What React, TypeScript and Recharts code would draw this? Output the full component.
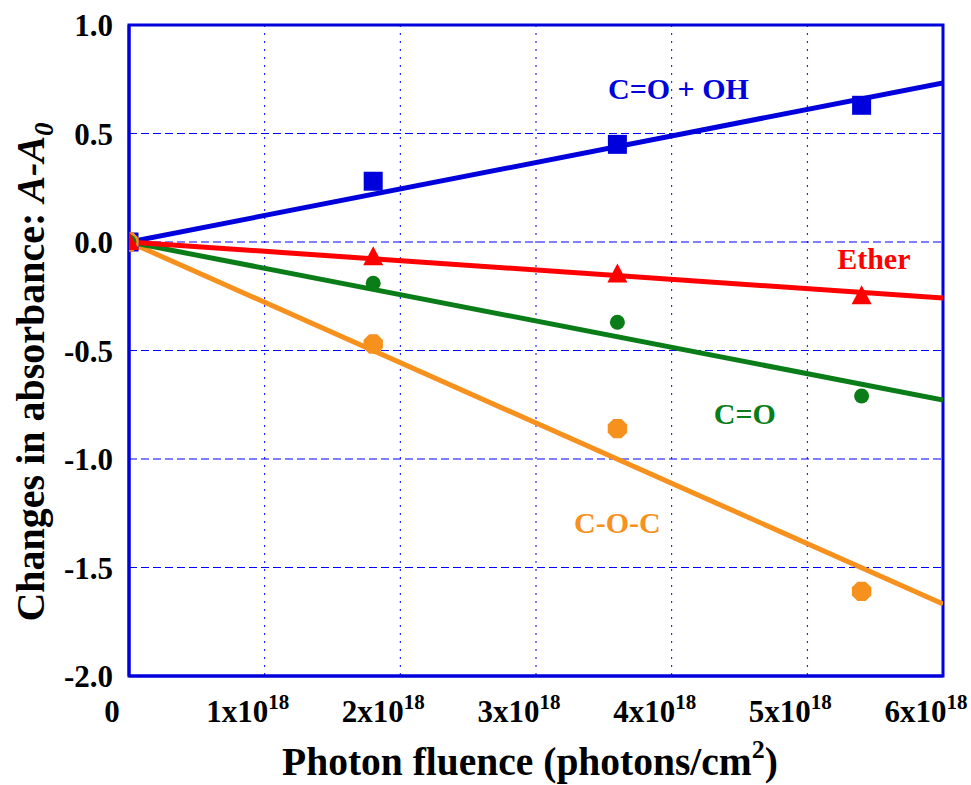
import React from "react"
import {
  CartesianGrid,
  ReferenceArea,
  ReferenceDot,
  Scatter,
  ScatterChart,
  XAxis,
  YAxis,
} from "recharts"

// photon fluence (photons/cm2) of the measured points
const fluence = [0, 1.8e18, 3.6e18, 5.4e18]

// changes in absorbance A-A0
const coOh = [0, 0.28, 0.45, 0.63]
const ether = [0, -0.07, -0.15, -0.25]
const co = [0, -0.19, -0.37, -0.71]
const coc = [0, -0.47, -0.86, -1.61]

// fitted lines, start and end point
const fitX = [0, 6e18]
const coOhFit = [0, 0.733]
const etherFit = [0, -0.258]
const coFit = [0, -0.728]
const cocFit = [0, -1.668]

const xTicks = [0, 1e18, 2e18, 3e18, 4e18, 5e18, 6e18]
const yTicks = [-2, -1.5, -1, -0.5, 0, 0.5, 1]

const FONT = "'Liberation Serif', 'Times New Roman', serif"
const BLUE = "#0000DD"
const RED = "#FF0000"
const GREEN = "#0B7D18"
const ORANGE = "#F7911E"

const toPoints = (xs: number[], ys: number[]) => xs.map((x, i) => ({ x, y: ys[i] }))

const XTick = (props: any) => {
  const { x, y, payload } = props
  const v = payload.value
  if (v === 0) {
    return (
      <text x={x - 17} y={y + 46} textAnchor="middle" fontFamily={FONT} fontWeight="bold" fontSize={31} fill="#000" style={{ fontFamily: FONT }}>
        0
      </text>
    )
  }
  return (
    <text x={x - 17} y={y + 46} textAnchor="middle" fontFamily={FONT} fontWeight="bold" fontSize={31} fill="#000" style={{ fontFamily: FONT }}>
      {`${Math.round(v / 1e18)}x10`}
      <tspan fontSize={21} dy={-13}>18</tspan>
    </text>
  )
}

const YTick = (props: any) => {
  const { x, y, payload } = props
  return (
    <text x={x - 16} y={y + 11} textAnchor="end" fontFamily={FONT} fontWeight="bold" fontSize={31} fill="#000" style={{ fontFamily: FONT }}>
      {payload.value.toFixed(1)}
    </text>
  )
}

const square = (color: string) => (p: any) => (
  <rect x={p.cx - 9.5} y={p.cy - 9.5} width={19} height={19} fill={color} />
)
const triangle = (color: string) => (p: any) => (
  <polygon points={`${p.cx},${p.cy - 11} ${p.cx + 10},${p.cy + 8} ${p.cx - 10},${p.cy + 8}`} fill={color} />
)
const circle = (color: string) => (p: any) => <circle cx={p.cx} cy={p.cy} r={7.5} fill={color} />
const octagon = (color: string) => (p: any) => {
  const pts = []
  for (let i = 0; i < 8; i++) {
    const a = ((i * 45 + 22.5) * Math.PI) / 180
    pts.push(`${p.cx + 10.5 * Math.cos(a)},${p.cy + 10.5 * Math.sin(a)}`)
  }
  return <polygon points={pts.join(" ")} fill={color} />
}
const noShape = () => <g />

const labelStyle = (color: string) => ({
  fill: color,
  fontFamily: FONT,
  fontWeight: "bold",
  fontSize: 30,
  style: { fontFamily: FONT },
})

export default function App() {
  return (
    <div style={{ position: "absolute", left: 0, top: 0, background: "#fff" }}>
      <ScatterChart width={971} height={785} margin={{ top: 25, right: 28, left: 0, bottom: 0 }}>
        <CartesianGrid vertical={false} stroke="#0000FF" strokeDasharray="8 4" strokeWidth={1} />
        <CartesianGrid horizontal={false} stroke="#0000FF" strokeDasharray="2 6" strokeWidth={1} />
        <XAxis
          type="number"
          dataKey="x"
          domain={[0, 6e18]}
          ticks={xTicks}
          interval={0}
          allowDataOverflow
          height={109}
          tickSize={0}
          tickMargin={0}
          tickLine={false}
          axisLine={{ stroke: BLUE, strokeWidth: 3 }}
          tick={<XTick />}
          label={{
            content: () => (
              <text x={530} y={775} textAnchor="middle" fontFamily={FONT} fontWeight="bold" fontSize={39.5} fill="#000">
                Photon fluence (photons/cm
                <tspan fontSize={26} dy={-17}>2</tspan>
                <tspan dy={17}>)</tspan>
              </text>
            ),
          }}
        />
        <YAxis
          type="number"
          dataKey="y"
          domain={[-2, 1]}
          ticks={yTicks}
          interval={0}
          allowDataOverflow
          width={129}
          tickSize={0}
          tickMargin={0}
          tickLine={false}
          axisLine={{ stroke: BLUE, strokeWidth: 3 }}
          tick={<YTick />}
          label={{
            content: () => (
              <text
                transform="rotate(-90)"
                x={-372}
                y={44}
                textAnchor="middle"
                fontFamily={FONT}
                fontWeight="bold"
                fontSize={40}
                fill="#000"
              >
                Changes in absorbance:{" "}
                <tspan fontStyle="italic">A-A</tspan>
                <tspan fontStyle="italic" fontSize={27} dy={9}>0</tspan>
              </text>
            ),
          }}
        />
        <ReferenceArea x1={0} x2={6e18} y1={-2} y2={1} fill="none" stroke={BLUE} strokeWidth={3} ifOverflow="visible" />

        <Scatter data={toPoints(fitX, coOhFit)} line={{ stroke: BLUE, strokeWidth: 5 }} strokeWidth={5} shape={noShape} fill={BLUE} isAnimationActive={false} />
        <Scatter data={toPoints(fitX, cocFit)} line={{ stroke: ORANGE, strokeWidth: 5 }} strokeWidth={5} shape={noShape} fill={ORANGE} isAnimationActive={false} />
        <Scatter data={toPoints(fitX, coFit)} line={{ stroke: GREEN, strokeWidth: 5 }} strokeWidth={5} shape={noShape} fill={GREEN} isAnimationActive={false} />
        <Scatter data={toPoints(fitX, etherFit)} line={{ stroke: RED, strokeWidth: 5 }} strokeWidth={5} shape={noShape} fill={RED} isAnimationActive={false} />

        <Scatter data={toPoints(fluence, coOh)} shape={square(BLUE)} fill={BLUE} isAnimationActive={false} />
        <Scatter data={toPoints(fluence, coc)} shape={octagon(ORANGE)} fill={ORANGE} isAnimationActive={false} />
        <Scatter data={toPoints(fluence, co)} shape={circle(GREEN)} fill={GREEN} isAnimationActive={false} />
        <Scatter data={toPoints(fluence, ether)} shape={triangle(RED)} fill={RED} isAnimationActive={false} />

        <ReferenceDot x={4.05e18} y={0.71} r={0} label={{ value: "C=O + OH", position: "center", ...labelStyle(BLUE) }} />
        <ReferenceDot x={5.49e18} y={-0.074} r={0} label={{ value: "Ether", position: "center", ...labelStyle(RED) }} />
        <ReferenceDot x={4.54e18} y={-0.79} r={0} label={{ value: "C=O", position: "center", ...labelStyle(GREEN) }} />
        <ReferenceDot x={3.6e18} y={-1.29} r={0} label={{ value: "C-O-C", position: "center", ...labelStyle(ORANGE) }} />
      </ScatterChart>
    </div>
  )
}
